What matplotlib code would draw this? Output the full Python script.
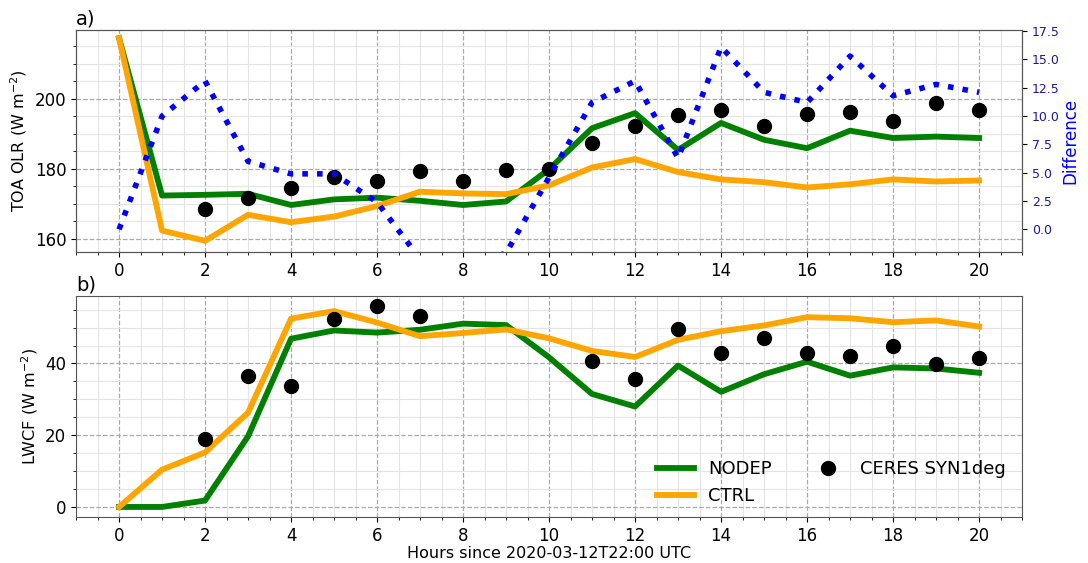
import numpy as np
import matplotlib.pyplot as plt
from matplotlib.ticker import AutoMinorLocator, MultipleLocator

hours = np.arange(21)

# TOA outgoing longwave radiation (W m-2)
olr_nodep = [217.3, 172.4, 172.6, 172.9, 169.7, 171.3, 171.8, 170.9, 169.7, 170.7,
             179.9, 191.6, 195.9, 185.4, 193.1, 188.3, 185.9, 190.9, 188.8, 189.2, 188.8]
olr_ctrl = [217.3, 162.4, 159.5, 166.9, 164.8, 166.4, 169.4, 173.5, 173.0, 172.8,
            175.3, 180.4, 182.8, 179.1, 177.0, 176.2, 174.7, 175.6, 177.0, 176.4, 176.7]
olr_ceres = [np.nan, np.nan, 168.5, 171.6, 174.5, 177.8, 176.6, 179.4, 176.6, 179.7,
             180.0, 187.3, 192.1, 195.5, 196.9, 192.3, 195.7, 196.3, 193.6, 198.8, 196.9]

# Longwave cloud forcing (W m-2)
lwcf_nodep = [0.0, 0.0, 1.8, 19.7, 46.9, 49.2, 48.6, 49.4, 51.1, 50.7,
              41.7, 31.5, 28.0, 39.4, 32.1, 37.0, 40.5, 36.6, 38.9, 38.6, 37.4]
lwcf_ctrl = [0.0, 10.4, 15.2, 26.3, 52.5, 54.6, 51.4, 47.6, 48.5, 49.5,
             47.0, 43.5, 41.8, 46.6, 49.0, 50.6, 52.9, 52.6, 51.5, 52.0, 50.3]
lwcf_ceres = [np.nan, np.nan, 18.9, 36.6, 33.8, 52.3, 56.0, 53.1, np.nan, np.nan,
              np.nan, 40.7, 35.6, 49.7, 42.8, 47.1, 42.8, 42.1, 44.9, 39.8, 41.6]

olr_diff = np.array(olr_nodep) - np.array(olr_ctrl)

fig = plt.figure(figsize=(10.88, 5.63), dpi=100)
ax1 = fig.add_axes([0.0699, 0.5524, 0.8695, 0.3943])
ax2 = fig.add_axes([0.0699, 0.0817, 0.8695, 0.3925])


def style_axis(ax):
    ax.set_xlim(-1, 21)
    ax.xaxis.set_major_locator(MultipleLocator(2))
    ax.xaxis.set_minor_locator(AutoMinorLocator(4))
    ax.yaxis.set_minor_locator(AutoMinorLocator(4))
    ax.grid(which='major', color='#aaaaaa', linestyle='--', linewidth=0.9)
    ax.grid(which='minor', color='#e4e4e4', linestyle='-', linewidth=0.8)
    ax.set_axisbelow(True)
    ax.tick_params(labelsize=12)
    for s in ax.spines.values():
        s.set_color('#555555')


# a) OLR
ax1.plot(hours, olr_nodep, color='green', lw=4.2, label='NODEP')
ax1.plot(hours, olr_ctrl, color='orange', lw=4.2, label='CTRL')
ax1.plot(hours, olr_ceres, 'o', color='black', ms=10, label='CERES SYN1deg')
style_axis(ax1)
ax1.set_ylim(156.3, 219.6)
ax1.set_ylabel('TOA OLR (W m$^{-2}$)', fontsize=11.5)
ax1.set_title('a)', loc='left', fontsize=14, pad=4)

ax1r = ax1.twinx()
ax1r.plot(hours, olr_diff, color='blue', lw=4, linestyle=':')
ax1r.set_ylim(-2.0, 17.6)
ax1r.yaxis.set_major_locator(MultipleLocator(2.5))
ax1r.tick_params(labelsize=9, labelcolor='#1a1aa0')
ax1r.set_ylabel('Difference', color='blue', fontsize=12, labelpad=1)
for s in ax1r.spines.values():
    s.set_color('#555555')

# b) LWCF
ax2.plot(hours, lwcf_nodep, color='green', lw=4.2, label='NODEP')
ax2.plot(hours, lwcf_ctrl, color='orange', lw=4.2, label='CTRL')
ax2.plot(hours, lwcf_ceres, 'o', color='black', ms=10, label='CERES SYN1deg')
style_axis(ax2)
ax2.set_ylabel('LWCF (W m$^{-2}$)', fontsize=11.5)
ax2.set_xlabel('Hours since 2020-03-12T22:00 UTC', fontsize=11.5, labelpad=1)
ax2.set_title('b)', loc='left', fontsize=14, pad=4)
ax2.legend(ncol=2, frameon=False, fontsize=13, loc='lower right',
           bbox_to_anchor=(1.0, -0.02), columnspacing=2.1, handlelength=2.0)

plt.savefig('out.png', dpi=100)
